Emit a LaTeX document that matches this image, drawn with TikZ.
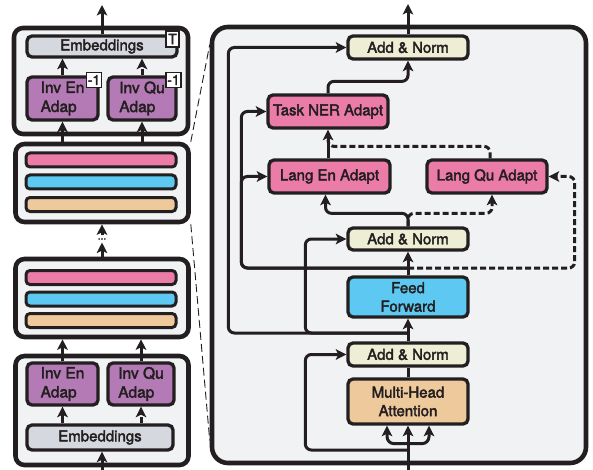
\documentclass[tikz,border=0pt]{standalone}
\usepackage{fontspec}
\setmainfont{TeX Gyre Heros}[BoldFont=TeX Gyre Heros, BoldFeatures={FakeBold=2.4}]
\usetikzlibrary{arrows.meta,calc,backgrounds}
\definecolor{panelbg}{HTML}{F1F2F4}
\definecolor{embgray}{HTML}{D5D8DE}
\definecolor{invpurple}{HTML}{B47AB5}
\definecolor{pinkc}{HTML}{EB7BA7}
\definecolor{bluec}{HTML}{5DC9F2}
\definecolor{tanc}{HTML}{EEC99C}
\definecolor{addn}{HTML}{EEEED4}
\definecolor{ink}{HTML}{231F20}
\begin{document}
\begin{tikzpicture}[x=1pt,y=-1pt,
  blk/.style={draw=ink, line width=4.6pt, fill=panelbg, rounded corners=9pt, inner sep=0pt},
  box/.style={draw=ink, line width=3.3pt, rounded corners=5pt, inner sep=0pt, text=ink,
    font=\fontsize{15}{18.5}\selectfont\bfseries, align=center},
  bar/.style={draw=ink, line width=3pt, rounded corners=4pt, inner sep=0pt, minimum width=150pt, minimum height=14pt},
  tag/.style={draw=ink, fill=white, line width=1.5pt, inner sep=0.5pt, text=ink,
    font=\fontsize{14}{14}\selectfont\bfseries, minimum width=15pt, minimum height=15pt},
  arr/.style={draw=ink, line width=3pt, -{Stealth[length=10.5pt,width=10.5pt,inset=2.5pt]}, rounded corners=6pt},
  plain/.style={draw=ink, line width=3pt, rounded corners=6pt},
  dsh/.style={dash pattern=on 6pt off 3pt},
  zoomln/.style={draw=ink, line width=0.9pt, dash pattern=on 8pt off 4pt}
]
\useasboundingbox (0,0) rectangle (593,470);

% ---------- left column ----------
\node[blk, minimum width=174pt, minimum height=106pt] (tb) at (101,81) {};
\node[box, fill=embgray, minimum width=150pt, minimum height=21pt] (tEmb) at (102,46.5) {Embeddings};
\node[box, fill=invpurple, minimum width=71pt, minimum height=43pt, align=left, font=\fontsize{15.5}{19}\selectfont\bfseries] (tEn) at (62.5,98.5) {Inv En\\Adap};
\node[box, fill=invpurple, minimum width=68pt, minimum height=43pt, align=left, font=\fontsize{15.5}{19}\selectfont\bfseries] (tQu) at (142,98.5) {Inv Qu\\Adap};
\node[tag, minimum width=13pt, minimum height=16pt] (tT) at (172.5,39) {T};
\node[tag] (tEnM) at (94,80) {-1};
\node[tag] (tQuM) at (173.5,80) {-1};

\node[blk, minimum width=173pt, minimum height=78pt] (m1) at (102,183) {};
\node[bar, fill=pinkc] (m1a) at (101,160) {};
\node[bar, fill=bluec] (m1b) at (101,182) {};
\node[bar, fill=tanc] (m1c) at (101,204.5) {};

\node[font=\fontsize{10}{10}\selectfont\bfseries, inner sep=0pt, outer sep=3pt, text=ink] (dots) at (102,239) {...};

\node[blk, minimum width=173pt, minimum height=78pt] (m2) at (102,298) {};
\node[bar, fill=pinkc] (m2a) at (101,277.5) {};
\node[bar, fill=bluec] (m2b) at (101,299) {};
\node[bar, fill=tanc] (m2c) at (101,320.5) {};

\node[blk, minimum width=173pt, minimum height=109pt] (bb) at (102,410.5) {};
\node[box, fill=invpurple, minimum width=71pt, minimum height=42pt, align=left, font=\fontsize{15.5}{19}\selectfont\bfseries] (bEn) at (62.5,384) {Inv En\\Adap};
\node[box, fill=invpurple, minimum width=66pt, minimum height=42pt, align=left, font=\fontsize{15.5}{19}\selectfont\bfseries] (bQu) at (141,384) {Inv Qu\\Adap};
\node[box, fill=embgray, minimum width=146pt, minimum height=25pt] (bEmb) at (100,437.5) {Embeddings};

\coordinate (lout) at (102,5);
\coordinate (lin) at (102,470);

\draw[arr] (tEmb.north) -- (lout);
\draw[arr] (tEn.north) -- (tEn.north |- tEmb.south);
\draw[arr,dsh] (tQu.north) -- (tQu.north |- tEmb.south);
\draw[arr] (tEn.south |- m1.north) -- (tEn.south);
\draw[arr] (tQu.south |- m1.north) -- (tQu.south);
\draw[arr] (dots) -- (dots |- m1.south);
\draw[arr] (dots |- m2.north) -- (dots);
\draw[arr] (bEn.north) -- (bEn.north |- m2.south);
\draw[arr] (bQu.north) -- (bQu.north |- m2.south);
\draw[arr] (bEn.south |- bEmb.north) -- (bEn.south);
\draw[arr,dsh] (bQu.south |- bEmb.north) -- (bQu.south);
\draw[arr] (lin) -- (lin |- bEmb.south);

% ---------- right panel ----------
\node[blk, rounded corners=16pt, minimum width=374pt, minimum height=436pt] (rp) at (399,245) {};

\begin{scope}[on background layer]
\draw[zoomln] (m1.north east) -- ($(rp.north west)+(0,20)$);
\draw[zoomln] (m1.south east) -- ($(rp.south west)+(0,-25)$);
\end{scope}

\node[box, fill=addn, minimum width=120pt, minimum height=23pt] (an3) at (408,47.5) {Add \& Norm};
\node[box, fill=pinkc, minimum width=120pt, minimum height=33pt] (ner) at (328,111.5) {Task NER Adapt};
\node[box, fill=pinkc, minimum width=121pt, minimum height=33pt] (len) at (329.5,176.5) {Lang En Adapt};
\node[box, fill=pinkc, minimum width=120pt, minimum height=33pt] (lqu) at (487,176.5) {Lang Qu Adapt};
\node[box, fill=addn, minimum width=120pt, minimum height=22pt] (an2) at (408,239) {Add \& Norm};
\node[box, fill=bluec, minimum width=120pt, minimum height=40pt] (ff) at (408,297) {Feed\\Forward};
\node[box, fill=addn, minimum width=120pt, minimum height=23pt] (an1) at (408,354.5) {Add \& Norm};
\node[box, fill=tanc, minimum width=120pt, minimum height=45pt] (mha) at (408,401.5) {Multi-Head\\Attention};

\coordinate (rout) at (408,4);
\coordinate (rin) at (408,470);
\coordinate (b0) at (408,450);
\coordinate (b1) at (408,333);
\coordinate (b2) at (408,268);

\draw[arr] (rin) -- (mha.south);
\draw[arr, rounded corners=7pt] ($(mha.south)+(0,18)$) -| ($(mha.south)+(-21,0)$);
\draw[arr, rounded corners=7pt] ($(mha.south)+(0,18)$) -| ($(mha.south)+(21,0)$);
\draw[arr] (b0) -| ($(an1.west)+(-41,0)$) -- (an1.west);
\draw[plain] (mha.north) -- (an1.south);
\draw[arr] (an1.north) -- (ff.south);
\draw[arr] (ff.north) -- (an2.south);
\draw[arr] (b1) -| ($(an2.west)+(-41,0)$) -- (an2.west);
\draw[arr] (b1) -| ($(an3.west)+(-118,0)$) -- (an3.west);
\draw[arr] (b2) -| ($(len.west)+(-26,0)$) -- (len.west);
\draw[arr] (b2) -| ($(ner.west)+(-25,0)$) -- (ner.west);
\draw[arr,dsh] (b2) -| ($(lqu.east)+(26,0)$) -- (lqu.east);
\draw[arr] (an2.north) -- ++(0,-13) -| ($(len.south)+(-4,0)$);
\draw[arr,dsh] (an2.north) -- ++(0,-13) -| ($(lqu.south)+(5,0)$);
\draw[arr] (ner.south |- len.north) -- (ner.south);
\draw[plain,dsh] ($(lqu.north)+(3,0)$) -- ++(0,-12) -| ($(ner.south)+(0,10)$);
\draw[arr] (ner.north) -- ++(0,-12) -| (an3.south);
\draw[arr] (an3.north) -- (rout);
\end{tikzpicture}
\end{document}
